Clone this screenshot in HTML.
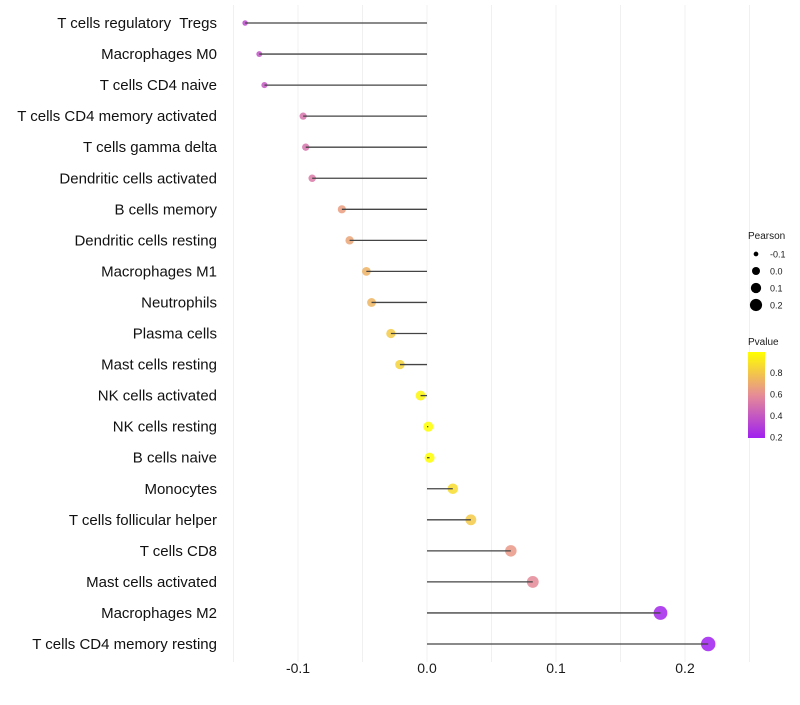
<!DOCTYPE html>
<html><head><meta charset="utf-8"><style>
body{margin:0;background:#fff;font-family:"Liberation Sans",sans-serif}
text{white-space:pre}
</style></head><body>
<svg id="chart" width="800" height="700" xmlns="http://www.w3.org/2000/svg"></svg>
<script>
const categories=["T cells regulatory  Tregs","Macrophages M0","T cells CD4 naive","T cells CD4 memory activated","T cells gamma delta","Dendritic cells activated","B cells memory","Dendritic cells resting","Macrophages M1","Neutrophils","Plasma cells","Mast cells resting","NK cells activated","NK cells resting","B cells naive","Monocytes","T cells follicular helper","T cells CD8","Mast cells activated","Macrophages M2","T cells CD4 memory resting"];
const pearson=[-0.141,-0.130,-0.126,-0.096,-0.094,-0.089,-0.066,-0.060,-0.047,-0.043,-0.028,-0.021,-0.005,0.001,0.002,0.020,0.034,0.065,0.082,0.181,0.218];
const pvalue=[0.35,0.38,0.40,0.50,0.50,0.52,0.65,0.67,0.72,0.73,0.80,0.83,0.95,0.98,0.98,0.86,0.80,0.63,0.58,0.22,0.20];
const xTicks=[-0.1,0.0,0.1,0.2];
const xTickLabels=["-0.1","0.0","0.1","0.2"];
const sizeBreaks=[-0.1,0.0,0.1,0.2];
const pBreaks=[0.2,0.4,0.6,0.8];

const svg=document.getElementById('chart');
const NS="http://www.w3.org/2000/svg";
function x(v){return 427+v*1290;}
function y(i){return 23+i*31.05;}
function r(v){return Math.sqrt(Math.max(4,25+124*v));}
function lr(v){return Math.sqrt(Math.max(4,16+105*v));}
function col(p){let t=Math.min(1,Math.max(0,(p-0.2)/0.78));
 const a=[160,32,240],m=[230,140,150],b=[255,255,0];let c;
 if(t<0.5){const u=t/0.5;c=a.map((v,k)=>v+(m[k]-v)*u);}else{const u=(t-0.5)/0.5;c=m.map((v,k)=>v+(b[k]-v)*u);}
 return `rgb(${c.map(Math.round).join(',')})`;}
function el(t,at,txt){const e=document.createElementNS(NS,t);for(const k in at)e.setAttribute(k,at[k]);if(txt!==undefined)e.textContent=txt;svg.appendChild(e);return e;}

[-0.15,-0.1,-0.05,0,0.05,0.1,0.15,0.2,0.25].forEach(v=>{
 const g=el('line',{x1:x(v),x2:x(v),y1:5,y2:662,stroke:'#f0f0f0','stroke-width':1});
 
 
});
categories.forEach((c,i)=>{
 const t=el('text',{x:217,y:y(i)+5,'text-anchor':'end','font-size':15,fill:'#111'},c);
 
 
 const pt=el('circle',{cx:x(pearson[i]),cy:y(i),r:r(pearson[i]),fill:col(pvalue[i]),'fill-opacity':0.85});
 
 
 const ln=el('line',{x1:x(0),x2:x(pearson[i]),y1:y(i),y2:y(i),stroke:'#444','stroke-width':1.3});
 
 
});
xTicks.forEach((v,i)=>{
 const t=el('text',{x:x(v),y:673,'text-anchor':'middle','font-size':14,fill:'#1a1a1a'},xTickLabels[i]);
 
 
});
let lt=el('text',{x:748,y:239,'font-size':10,fill:'#1a1a1a'},'Pearson');


sizeBreaks.forEach((v,i)=>{
 const cy=254+i*17;
 const c=el('circle',{cx:756,cy:cy,r:lr(v),fill:'#000'});
 
 
 const t=el('text',{x:770,y:cy+3.5,'font-size':9,fill:'#1a1a1a'},v.toFixed(1));
 
 
});
lt=el('text',{x:748,y:345,'font-size':10,fill:'#1a1a1a'},'Pvalue');


const defs=el('defs',{});
const gr=document.createElementNS(NS,'linearGradient');gr.setAttribute('id','pg');gr.setAttribute('x1','0');gr.setAttribute('y1','1');gr.setAttribute('x2','0');gr.setAttribute('y2','0');defs.appendChild(gr);
[0,0.25,0.5,0.75,1].forEach(t=>{const s=document.createElementNS(NS,'stop');s.setAttribute('offset',t);s.setAttribute('stop-color',col(0.2+t*0.78));gr.appendChild(s);});
const bar=el('rect',{x:748,y:352,width:17,height:86,fill:'url(#pg)'});


pBreaks.forEach(p=>{
 const cy=437-(p-0.2)/0.2*21.5;
 const t=el('text',{x:770,y:cy+3.5,'font-size':9,fill:'#1a1a1a'},p.toFixed(1));
 
 
});
</script>
</body></html>
